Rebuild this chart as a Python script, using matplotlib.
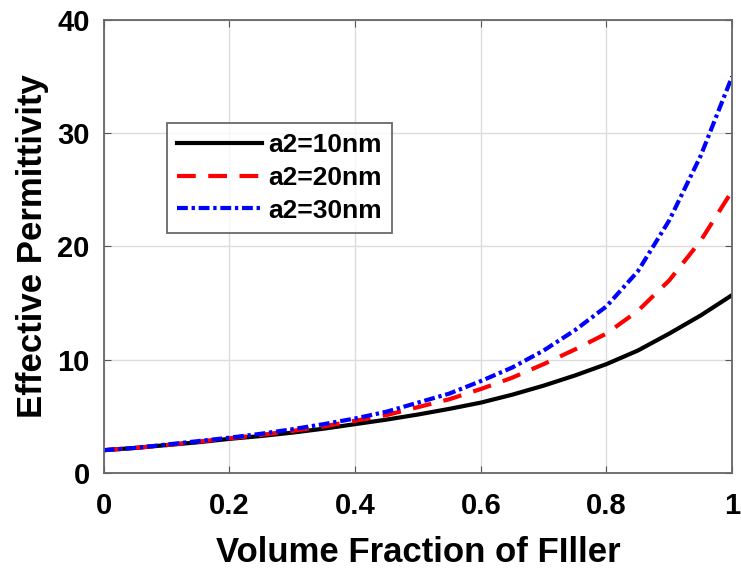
import numpy as np
import matplotlib
matplotlib.use("Agg")
import matplotlib.pyplot as plt

plt.rcParams['font.family'] = ['Liberation Sans', 'DejaVu Sans']
plt.rcParams['font.weight'] = 'bold'

# valores
fraction = [0.0, 0.05, 0.1, 0.15, 0.2, 0.25, 0.3, 0.35, 0.4, 0.45, 0.5,
            0.55, 0.6, 0.65, 0.7, 0.75, 0.8, 0.85, 0.9, 0.95, 1.0]
eps_10nm = [2.0, 2.2, 2.45, 2.7, 3.0, 3.25, 3.55, 3.9, 4.3, 4.7, 5.15,
            5.65, 6.2, 6.9, 7.7, 8.6, 9.6, 10.8, 12.3, 13.9, 15.7]
eps_20nm = [2.0, 2.2, 2.45, 2.75, 3.05, 3.35, 3.7, 4.1, 4.6, 5.1, 5.8,
            6.5, 7.4, 8.4, 9.6, 10.9, 12.3, 14.3, 17.0, 20.5, 24.9]
eps_30nm = [2.0, 2.2, 2.5, 2.8, 3.1, 3.45, 3.85, 4.3, 4.8, 5.4, 6.2,
            7.0, 8.1, 9.3, 10.8, 12.6, 14.7, 17.8, 22.3, 28.0, 35.0]

labels = ['a2=10nm', 'a2=20nm', 'a2=30nm']
xticks = [0, 0.2, 0.4, 0.6, 0.8, 1]
xticklabels = ['0', '0.2', '0.4', '0.6', '0.8', '1']
yticks = [0, 10, 20, 30, 40]

fig = plt.figure(figsize=(7.41, 5.69), dpi=100)
ax = fig.add_axes([0.140, 0.169, 0.848, 0.796])

ax.plot(fraction, eps_10nm, color='black', lw=3, ls='-', label=labels[0])
ax.plot(fraction, eps_20nm, color='red', lw=3, ls=(0, (4.5, 3)), label=labels[1])
ax.plot(fraction, eps_30nm, color='blue', lw=3, ls=(0, (2.6, 0.9, 0.8, 0.9)), label=labels[2])

ax.set_xlim(0, 1)
ax.set_ylim(0, 40)
ax.set_xticks(xticks)
ax.set_xticklabels(xticklabels)
ax.set_yticks(yticks)
ax.grid(True, color='#dcdcdc', lw=1)
ax.tick_params(direction='in', top=True, right=True, labelsize=21, length=5,
               color='#555555')
ax.tick_params(axis='x', pad=14)
ax.tick_params(axis='y', pad=10)
for s in ax.spines.values():
    s.set_color('#666666')
    s.set_linewidth(1.3)

ax.set_xlabel('Volume Fraction of FIller', fontsize=25, fontweight='bold', labelpad=11)
ax.set_ylabel('Effective Permittivity', fontsize=25, fontweight='bold', labelpad=6)

leg = ax.legend(loc='upper left', bbox_to_anchor=(0.1, 0.773), fontsize=19,
                frameon=True, fancybox=False, edgecolor='#444444',
                handlelength=3.2, handletextpad=0.25, borderpad=0.4,
                labelspacing=0.33, borderaxespad=0)
leg.get_frame().set_linewidth(1.3)

fig.savefig('out.png', dpi=100)
